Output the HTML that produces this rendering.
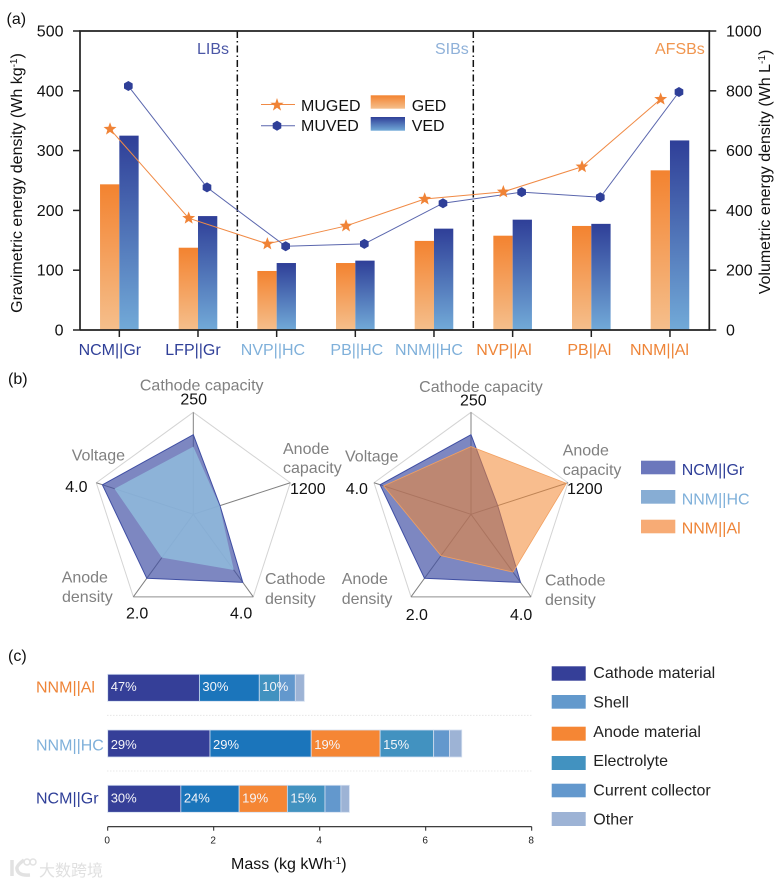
<!DOCTYPE html>
<html lang="en">
<head>
<meta charset="utf-8">
<title>Battery energy density comparison</title>
<style>
html,body{margin:0;padding:0;background:#fff;}
body{width:781px;height:884px;overflow:hidden;}
svg{display:block;font-family:"Liberation Sans","Noto Sans CJK SC",sans-serif;font-size:16px;filter:blur(0.3px);}
.g{fill:#808080;}
.k{fill:#111;}
</style>
</head>
<body>
<svg id="fig" xmlns="http://www.w3.org/2000/svg" width="781" height="884" viewBox="0 0 781 884">
<defs>
<linearGradient id="orangeGrad" x1="0" y1="0" x2="0" y2="1"><stop offset="0" stop-color="#f38330"/><stop offset="1" stop-color="#f5bf8c"/></linearGradient>
<linearGradient id="blueGrad" x1="0" y1="0" x2="0" y2="1"><stop offset="0" stop-color="#2f3f98"/><stop offset="1" stop-color="#72aad8"/></linearGradient>
</defs>

<text x="6.5" y="24" class="k">(a)</text>
<text x="8" y="384" class="k">(b)</text>
<text x="8" y="661" class="k">(c)</text>

<g id="panelA">
<text transform="translate(22,183) rotate(-90)" text-anchor="middle" class="k">Gravimetric energy density (Wh kg<tspan font-size="10" dy="-5">-1</tspan><tspan dy="5">)</tspan></text>
<text transform="translate(770,172) rotate(-90)" text-anchor="middle" class="k">Volumetric energy density (Wh L<tspan font-size="10" dy="-5">-1</tspan><tspan dy="5">)</tspan></text>
<text x="197" y="54" fill="#4b57a6">LIBs</text>
<text x="435" y="54" fill="#8fb1d9">SIBs</text>
<text x="655" y="54" fill="#f0954e">AFSBs</text>
<g>
<line x1="261" y1="104.5" x2="295" y2="104.5" stroke="#f08a45" stroke-width="1"/>
<polygon points="277,98 278.6,102.8 283.7,102.8 279.6,105.8 281.1,110.6 277,107.7 272.9,110.6 274.4,105.8 270.3,102.8 275.4,102.8" fill="#f08336"/>
<text x="301" y="111" class="k">MUGED</text>
<line x1="261" y1="125.7" x2="295" y2="125.7" stroke="#5a66ad" stroke-width="1"/>
<polygon points="277,120.7 281.3,123.2 281.3,128.2 277,130.7 272.7,128.2 272.7,123.2" fill="#2f3f98"/>
<text x="301" y="131" class="k">MUVED</text>
<rect x="370.7" y="95.3" width="34.3" height="13.4" fill="url(#orangeGrad)"/>
<text x="411.7" y="111" class="k">GED</text>
<rect x="370.7" y="117" width="34.3" height="13.7" fill="url(#blueGrad)"/>
<text x="411.7" y="131" class="k">VED</text>
</g>
</g>

<g id="panelB">
<text x="201.7" y="390.7" text-anchor="middle" class="g">Cathode capacity</text>
<text x="193.7" y="404.3" text-anchor="middle" class="k">250</text>
<text x="283" y="454" class="g">Anode</text>
<text x="283" y="473" class="g">capacity</text>
<text x="290" y="494" class="k">1200</text>
<text x="71.7" y="460.7" class="g">Voltage</text>
<text x="65.3" y="492" class="k">4.0</text>
<text x="61.7" y="582.7" class="g">Anode</text>
<text x="62" y="602" class="g">density</text>
<text x="126" y="618.3" class="k">2.0</text>
<text x="265" y="584" class="g">Cathode</text>
<text x="265" y="604" class="g">density</text>
<text x="230" y="618.3" class="k">4.0</text>

<text x="481" y="392" text-anchor="middle" class="g">Cathode capacity</text>
<text x="473.3" y="405.7" text-anchor="middle" class="k">250</text>
<text x="562.7" y="455.3" class="g">Anode</text>
<text x="562.7" y="475" class="g">capacity</text>
<text x="567" y="494" class="k">1200</text>
<text x="345" y="461.7" class="g">Voltage</text>
<text x="345.7" y="494" class="k">4.0</text>
<text x="341.7" y="584" class="g">Anode</text>
<text x="341.7" y="604" class="g">density</text>
<text x="405.7" y="620" class="k">2.0</text>
<text x="545" y="585.7" class="g">Cathode</text>
<text x="545" y="605" class="g">density</text>
<text x="510" y="620" class="k">4.0</text>

<g>
<rect x="641" y="460.7" width="34.3" height="13.6" fill="#6b77bc"/>
<text x="681.7" y="475" fill="#2f3f98">NCM||Gr</text>
<rect x="641" y="490" width="34.3" height="13.7" fill="#87add4"/>
<text x="681.7" y="504.3" fill="#7fb0da">NNM||HC</text>
<rect x="641" y="519.7" width="34.3" height="13.6" fill="#f7ab75"/>
<text x="681.7" y="533.3" fill="#ee8437">NNM||Al</text>
</g>
</g>

<g id="panelC">
<text x="231" y="869" class="k">Mass (kg kWh<tspan font-size="10" dy="-5">-1</tspan><tspan dy="5">)</tspan></text>
<g>
<rect x="551.7" y="666.3" width="34" height="14.4" fill="#353f98"/>
<text x="593.3" y="678" fill="#222">Cathode material</text>
<rect x="551.7" y="695" width="34" height="13.7" fill="#6399cc"/>
<text x="593.3" y="707.7" fill="#222">Shell</text>
<rect x="551.7" y="726.7" width="34" height="14" fill="#f58634"/>
<text x="593.3" y="737" fill="#222">Anode material</text>
<rect x="551.7" y="756" width="34" height="14" fill="#4292c0"/>
<text x="593.3" y="766" fill="#222">Electrolyte</text>
<rect x="551.7" y="783.7" width="34" height="13.6" fill="#6398cd"/>
<text x="593.3" y="795.3" fill="#222">Current collector</text>
<rect x="551.7" y="812" width="34" height="14" fill="#9db3d5"/>
<text x="593.3" y="824.7" fill="#222">Other</text>
</g>
</g>

<g fill="none" stroke="#e2e2e2">
<path d="M12 860 V876 M24 860 Q16 866 17 869 Q18 876 30 875" stroke-width="3.5"/>
<circle cx="27" cy="862" r="3" stroke-width="1.5"/>
<circle cx="33" cy="862" r="3" stroke-width="1.5"/>
<text x="39" y="876" font-size="16" fill="#e0e0e0" stroke="none">大数跨境</text>
</g>
</svg>

<script>
/* Panel (a) data */
var categories = ['NCM||Gr','LFP||Gr','NVP||HC','PB||HC','NNM||HC','NVP||Al','PB||Al','NNM||Al'];
var gedValues = [243.6,137.6,98.7,112,149,157.7,174,267];
var vedValues = [650,381,224,232,339,369,355,634];
var mugedValues = [336,187,144,174,219,231,273,386];
var muvedValues = [816,477,280,288,424,461,444,796];
var leftTicks = [0,100,200,300,400,500];
var rightTicks = [0,200,400,600,800,1000];
var categoryColors = ['#2f3f98','#2f3f98','#7fb0da','#7fb0da','#7fb0da','#ee8437','#ee8437','#ee8437'];
var groupDividers = [2,5];

/* Panel (b) data: cathode capacity, anode capacity, cathode density, anode density, voltage */
var radarMax = [250,1200,4,2,4];
var ncmGrRadar = [195,330,3.3,1.55,3.75];
var nnmHcRadar = [166,325,2.7,1.05,3.25];
var nnmAlRadar = [166,1180,2.8,1.0,3.6];

/* Panel (c) data */
var massRows = ['NNM||Al','NNM||HC','NCM||Gr'];
var massRowColors = ['#ee8437','#7fb0da','#2f3f98'];
var massCathode = [1.73,1.93,1.38];
var massShell = [1.13,1.91,1.10];
var massAnode = [0,1.30,0.91];
var massElectrolyte = [0.38,1.01,0.71];
var massCollector = [0.30,0.30,0.30];
var massOther = [0.17,0.23,0.16];
var pctCathode = ['47%','29%','30%'];
var pctShell = ['30%','29%','24%'];
var pctAnode = ['','19%','19%'];
var pctElectrolyte = ['10%','15%','15%'];
var massTicks = [0,2,4,6,8];

var NS = 'http://www.w3.org/2000/svg';
function mk(tag, attrs, parent, txt){
  var e = document.createElementNS(NS, tag);
  for (var k in attrs) e.setAttribute(k, attrs[k]);
  if (txt !== undefined) e.textContent = txt;
  parent.appendChild(e);
  return e;
}

/* ---------- Panel A ---------- */
var A = document.getElementById('panelA');
var plotL = 80, plotR = 709.3, plotT = 31, plotB = 330;
function bandX(i){ return plotL + (plotR - plotL) * (i + 0.5) / categories.length; }
function yLeft(v){ return plotB - (plotB - plotT) * v / 500; }
function yRight(v){ return plotB - (plotB - plotT) * v / 1000; }
var barW = 19.3;
var labelNudge = [-9.5,-5,-3.7,1.5,-5,-8.7,-2,-10.5];

categories.forEach(function(c, i){
  var x = bandX(i);
  var b1 = mk('rect', {x:x-barW, y:yLeft(gedValues[i]), width:barW, height:plotB-yLeft(gedValues[i]), fill:'url(#orangeGrad)'}, A);
  
  
  var b2 = mk('rect', {x:x, y:yRight(vedValues[i]), width:barW, height:plotB-yRight(vedValues[i]), fill:'url(#blueGrad)'}, A);
  
  
});

groupDividers.forEach(function(d){
  var x = plotL + (plotR - plotL) * d / categories.length;
  var dl = mk('line', {x1:x, y1:plotT, x2:x, y2:plotB, stroke:'#111', 'stroke-width':1.5, 'stroke-dasharray':'7 3 1.5 3'}, A);
  
  
});

var axisPath = mk('path', {d:'M'+plotL+' '+plotB+'V'+plotT+'H'+plotR+'V'+plotB+'H'+plotL, fill:'none', stroke:'#222', 'stroke-width':1.7}, A);



leftTicks.forEach(function(t){
  var y = yLeft(t);
  var tk = mk('line', {x1:plotL-7, y1:y, x2:plotL, y2:y, stroke:'#222', 'stroke-width':1.5}, A);
  
  
  var lb = mk('text', {x:63.5, y:y+5.5, 'text-anchor':'end', fill:'#111'}, A, String(t));
  
  
});
rightTicks.forEach(function(t){
  var y = yRight(t);
  var tk = mk('line', {x1:plotR, y1:y, x2:plotR+7, y2:y, stroke:'#222', 'stroke-width':1.5}, A);
  
  
  var lb = mk('text', {x:726, y:y+5.5, fill:'#111'}, A, String(t));
  
  
});
categories.forEach(function(c, i){
  var x = bandX(i);
  var tk = mk('line', {x1:x, y1:plotB, x2:x, y2:plotB+7, stroke:'#222', 'stroke-width':1.5}, A);
  
  
  var lb = mk('text', {x:x+labelNudge[i], y:355, 'text-anchor':'middle', fill:categoryColors[i]}, A, c);
  
  
});

function linePoints(vals, yf, off){
  return vals.map(function(v, i){ return (bandX(i)+off) + ',' + yf(v); }).join(' ');
}
var mugedLine = mk('polyline', {points:linePoints(mugedValues, yLeft, -9.3), fill:'none', stroke:'#f08a45', 'stroke-width':1}, A);


var muvedLine = mk('polyline', {points:linePoints(muvedValues, yRight, 9), fill:'none', stroke:'#5a66ad', 'stroke-width':1}, A);



function starPts(cx, cy, r){
  var p = [];
  for (var k = 0; k < 10; k++){
    var a = -Math.PI/2 + k*Math.PI/5, rr = k%2 ? r*0.42 : r;
    p.push((cx+rr*Math.cos(a)).toFixed(2)+','+(cy+rr*Math.sin(a)).toFixed(2));
  }
  return p.join(' ');
}
function hexPts(cx, cy, r){
  var p = [];
  for (var k = 0; k < 6; k++){
    var a = -Math.PI/2 + k*Math.PI/3;
    p.push((cx+r*Math.cos(a)).toFixed(2)+','+(cy+r*Math.sin(a)).toFixed(2));
  }
  return p.join(' ');
}
mugedValues.forEach(function(v, i){
  var s = mk('polygon', {points:starPts(bandX(i)-9.3, yLeft(v), 6.8), fill:'#f08336'}, A);
  
  
});
muvedValues.forEach(function(v, i){
  var s = mk('polygon', {points:hexPts(bandX(i)+9, yRight(v), 5), fill:'#2f3f98'}, A);
  
  
});

/* ---------- Panel B ---------- */
var B = document.getElementById('panelB');
var radarR = 102;
function radarPt(cx, cy, i, frac){
  var a = -Math.PI/2 + i*2*Math.PI/5;
  return [cx + radarR*frac*Math.cos(a), cy + radarR*frac*Math.sin(a)];
}
function radarPoly(cx, cy, vals){
  return vals.map(function(v, i){ return radarPt(cx, cy, i, v/radarMax[i]).map(function(n){return n.toFixed(1);}).join(','); }).join(' ');
}
function radarGrid(cx, cy){
  var full = radarMax.map(function(m, i){ return radarPt(cx, cy, i, 1).join(','); }).join(' ');
  var pg = mk('polygon', {points:full, fill:'none', stroke:'#d4d4d4', 'stroke-width':1}, B);
  
  
  var p2 = radarPt(cx, cy, 2, 1), p3 = radarPt(cx, cy, 3, 1);
  var base = mk('line', {x1:p2[0], y1:p2[1], x2:p3[0], y2:p3[1], stroke:'#999', 'stroke-width':1}, B);
  
  
  radarMax.forEach(function(m, i){
    var p = radarPt(cx, cy, i, 1);
    var sp = mk('line', {x1:cx, y1:cy, x2:p[0], y2:p[1], stroke:'#808080', 'stroke-width':1}, B);
    
    
  });
}
radarGrid(193.3, 514.3);
var rL1 = mk('polygon', {points:radarPoly(193.3, 514.3, ncmGrRadar), fill:'#3f4ea3', 'fill-opacity':0.68, stroke:'#3f4ea3', 'stroke-width':1}, B);


var rL2 = mk('polygon', {points:radarPoly(193.3, 514.3, nnmHcRadar), fill:'#8fb9dc', 'fill-opacity':0.88}, B);



radarGrid(471, 514.3);
var rR1 = mk('polygon', {points:radarPoly(471, 514.3, ncmGrRadar), fill:'#3f4ea3', 'fill-opacity':0.68, stroke:'#3f4ea3', 'stroke-width':1}, B);


var rR2 = mk('polygon', {points:radarPoly(471, 514.3, nnmAlRadar), fill:'#f28732', 'fill-opacity':0.55, stroke:'#f2a060', 'stroke-width':0.8}, B);



/* ---------- Panel C ---------- */
var C = document.getElementById('panelC');
var massX0 = 107.7, massX8 = 531.7, massAxisY = 826.7;
function xMass(v){ return massX0 + (massX8 - massX0) * v / 8; }
var rowTops = [674.3, 730, 785.3];
var rowLabelY = [692.7, 750.7, 803.3];
var rowPctY = [691, 749, 802.3];
var massSeries = [massCathode, massShell, massAnode, massElectrolyte, massCollector, massOther];
var massPct = [pctCathode, pctShell, pctAnode, pctElectrolyte];
var massColors = ['#353f98','#1b75bb','#f58634','#4292c0','#6398cd','#9db3d5'];
var massNames = ['cathode','shell','anode','electrolyte','collector','other'];

[715.3, 771].forEach(function(y){
  var sep = mk('line', {x1:107, y1:y, x2:532, y2:y, stroke:'#e2e2e2', 'stroke-width':0.8, 'stroke-dasharray':'1.5 1.5'}, C);
  
  
});

massRows.forEach(function(r, row){
  var lb = mk('text', {x:36, y:rowLabelY[row], fill:massRowColors[row]}, C, r);
  
  
  var cum = 0;
  massSeries.forEach(function(s, k){
    var v = s[row];
    if (v > 0){
      var seg = mk('rect', {x:xMass(cum), y:rowTops[row], width:xMass(cum+v)-xMass(cum), height:27, fill:massColors[k], stroke:'#d3def0', 'stroke-width':0.8}, C);
      
      
    }
    cum += v;
  });
  cum = 0;
  massSeries.forEach(function(s, k){
    var v = s[row];
    if (massPct[k] && massPct[k][row]){
      var t = mk('text', {x:xMass(cum)+3, y:rowPctY[row], fill:'#f4f4f8', 'font-size':13}, C, massPct[k][row]);
      
      
    }
    cum += v;
  });
});

var massAxis = mk('line', {x1:massX0, y1:massAxisY, x2:massX8, y2:massAxisY, stroke:'#222', 'stroke-width':1.2}, C);


massTicks.forEach(function(t){
  var x = xMass(t);
  var tk = mk('line', {x1:x, y1:massAxisY, x2:x, y2:massAxisY+4, stroke:'#222', 'stroke-width':1}, C);
  
  
  var lb = mk('text', {x:x-0.5, y:843.5, 'text-anchor':'middle', 'font-size':10, fill:'#222'}, C, String(t));
  
  
});
</script>
</body>
</html>
